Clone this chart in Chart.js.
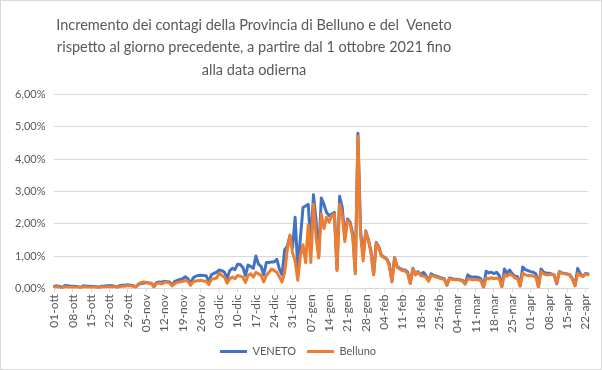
<!DOCTYPE html>
<html>
<head>
<meta charset="utf-8">
<script src="https://cdn.jsdelivr.net/npm/chart.js@4/dist/chart.umd.min.js"></script>
<style>
  html, body { margin: 0; padding: 0; background: #fff; }
  #wrap { width: 602px; height: 370px; position: relative; }
</style>
</head>
<body>
<div id="wrap"><canvas id="lineChart"></canvas></div>
<script>
// mesi (etichette asse x) e giorni presenti per ciascun mese
const monthNames = ['ott', 'nov', 'dic', 'gen', 'feb', 'mar', 'apr'];
const monthDays = [31, 30, 31, 31, 28, 31, 23];

const titleLines = [
    'Incremento dei contagi della Provincia di Belluno e del  Veneto',
    'rispetto al giorno precedente, a partire dal 1 ottobre 2021 fino',
    'alla data odierna'
];

// valori in percentuale, un valore al giorno
const venetoOtt = [0.07,0.08,0.06,0.03,0.09,0.08,0.07, 0.07,0.06,0.05,0.03,0.08,0.07,0.07, 0.06,0.06,0.05,0.03,0.07,0.07,0.08, 0.08,0.08,0.07,0.04,0.09,0.10,0.10, 0.11,0.10,0.09];
const venetoNov = [0.05,0.12,0.15,0.16,0.18,0.17,0.16, 0.07,0.18,0.20,0.19,0.22,0.21,0.20, 0.10,0.22,0.25,0.28,0.30,0.36,0.30, 0.15,0.32,0.38,0.40,0.41,0.40,0.39, 0.22,0.42];
const venetoDic = [0.47,0.50,0.57,0.55,0.50,0.31,0.55, 0.62,0.58,0.75,0.74,0.65,0.40,0.72, 0.68,0.62,1.00,0.75,0.68,0.42,0.80, 0.80,0.82,0.82,0.90,0.60,0.42,1.20, 1.30,1.62,1.25];
const venetoGen = [2.20,0.60,1.55,2.50,2.55,2.60,1.30, 2.90,2.10,1.00,2.80,2.60,2.35,2.25, 2.30,2.35,0.58,2.85,2.50,1.60,2.15, 2.05,1.70,0.50,4.80,1.80,1.00,1.78, 1.50,1.15,0.43];
const venetoFeb = [1.42,1.28,1.02,0.97,0.92,0.75,0.22, 0.95,0.68,0.62,0.58,0.57,0.50,0.16, 0.62,0.45,0.52,0.42,0.50,0.40,0.24, 0.45,0.40,0.38,0.35,0.32,0.30,0.10];
const venetoMar = [0.32,0.30,0.28,0.28,0.27,0.25,0.15, 0.42,0.36,0.35,0.35,0.34,0.30,0.04, 0.53,0.48,0.50,0.46,0.50,0.40,0.06, 0.60,0.47,0.57,0.45,0.38,0.36,0.08, 0.66,0.58,0.55];
const venetoApr = [0.52,0.50,0.45,0.05,0.60,0.50,0.47, 0.47,0.45,0.42,0.14,0.52,0.48,0.46, 0.45,0.42,0.30,0.10,0.62,0.45,0.37, 0.46,0.45];

const bellunoOtt = [0.04,0.05,0.03,0.01,0.05,0.04,0.04, 0.04,0.03,0.04,0.02,0.05,0.04,0.04, 0.03,0.04,0.03,0.01,0.05,0.04,0.05, 0.05,0.04,0.06,0.02,0.06,0.07,0.07, 0.09,0.08,0.07];
const bellunoNov = [0.03,0.13,0.18,0.20,0.19,0.17,0.15, 0.04,0.15,0.17,0.14,0.19,0.20,0.16, 0.08,0.15,0.19,0.20,0.22,0.24,0.22, 0.10,0.20,0.23,0.24,0.25,0.23,0.22, 0.12,0.28];
const bellunoDic = [0.30,0.32,0.47,0.40,0.35,0.16,0.30, 0.35,0.30,0.40,0.38,0.35,0.18,0.40, 0.45,0.35,0.50,0.45,0.40,0.20,0.40, 0.50,0.60,0.55,0.50,0.35,0.20,0.50, 1.20,1.65,1.10];
const bellunoGen = [0.85,0.25,1.00,1.35,0.80,1.97,0.80, 2.60,1.60,0.94,2.30,1.85,2.20,2.05, 2.25,2.30,0.55,2.60,2.30,1.45,2.10, 2.00,1.60,0.45,4.70,1.65,0.85,1.75, 1.50,1.10,0.42];
const bellunoFeb = [1.40,1.25,1.00,0.95,0.90,0.70,0.20, 0.94,0.65,0.60,0.55,0.55,0.45,0.15, 0.60,0.42,0.50,0.40,0.38,0.35,0.22, 0.40,0.38,0.35,0.32,0.30,0.28,0.10];
const bellunoMar = [0.30,0.28,0.27,0.27,0.26,0.22,0.13, 0.30,0.28,0.27,0.28,0.26,0.24,0.03, 0.32,0.30,0.33,0.30,0.32,0.28,0.05, 0.42,0.38,0.45,0.40,0.33,0.30,0.07, 0.47,0.42,0.40];
const bellunoApr = [0.40,0.38,0.35,0.05,0.52,0.45,0.42, 0.42,0.44,0.40,0.16,0.52,0.47,0.45, 0.44,0.40,0.28,0.08,0.47,0.40,0.37, 0.44,0.42];

const yTicks = [0, 1, 2, 3, 4, 5, 6];

document.addEventListener('DOMContentLoaded', function(){
    // etichette giornaliere tipo "01-ott"
    const labels = [];
    monthNames.forEach((m, mi) => {
        for (let d = 1; d <= monthDays[mi]; d++) {
            labels.push(String(d).padStart(2, '0') + '-' + m);
        }
    });

    const veneto = [].concat(venetoOtt, venetoNov, venetoDic, venetoGen, venetoFeb, venetoMar, venetoApr);
    const belluno = [].concat(bellunoOtt, bellunoNov, bellunoDic, bellunoGen, bellunoFeb, bellunoMar, bellunoApr);

    const grey = '#595959';
    const font = 'Lato, "Liberation Sans", sans-serif';

    // cornice grigia + titolo spostato un po' a sinistra come nell'originale
    const frame = {
        id: 'frame',
        afterLayout(chart) {
            if (chart.titleBlock) chart.titleBlock.right -= 88;
        },
        afterDraw(chart) {
            const c = chart.ctx;
            c.save();
            c.strokeStyle = '#d9d9d9';
            c.lineWidth = 1;
            c.strokeRect(0.5, 0.5, chart.width - 1, chart.height - 1);
            c.restore();
        }
    };

    const ctx = document.getElementById('lineChart').getContext('2d');
    new Chart(ctx, {
        type: 'line',
        data: {
            labels: labels,
            datasets: [
                { label: 'VENETO', data: veneto, borderColor: '#4472C4', backgroundColor: '#4472C4', order: 1 },
                { label: 'Belluno', data: belluno, borderColor: '#ED7D31', backgroundColor: '#ED7D31', order: 0 }
            ]
        },
        options: {
            responsive: true,
            maintainAspectRatio: false,
            animation: false,
            elements: {
                point: { radius: 0 },
                line: { borderWidth: 3, tension: 0, borderJoinStyle: 'round', borderCapStyle: 'round' }
            },
            layout: { padding: { left: 6, right: 12, top: 10, bottom: 3 } },
            scales: {
                x: {
                    grid: { drawOnChartArea: false, drawTicks: true, tickLength: 4, color: '#d9d9d9' },
                    border: { color: '#d9d9d9' },
                    ticks: {
                        autoSkip: false,
                        minRotation: 90,
                        maxRotation: 90,
                        color: grey,
                        font: { family: font, size: 12 },
                        padding: 2,
                        callback: function(v, i) { return i % 7 === 0 ? labels[i] : null; }
                    }
                },
                y: {
                    min: 0,
                    max: 6,
                    afterBuildTicks: s => { s.ticks = yTicks.map(v => ({ value: v })); },
                    grid: { color: '#d9d9d9', drawTicks: false },
                    border: { display: false },
                    ticks: {
                        color: grey,
                        padding: 9,
                        font: { family: font, size: 11 },
                        callback: v => v.toFixed(2).replace('.', ',') + '%'
                    }
                }
            },
            plugins: {
                title: {
                    display: true,
                    text: titleLines,
                    color: grey,
                    font: { family: font, size: 14.5, weight: 'normal', lineHeight: 1.55 },
                    padding: { top: 4, bottom: 13 }
                },
                legend: {
                    position: 'bottom',
                    labels: {
                        color: grey,
                        font: { family: font, size: 11 },
                        boxWidth: 27,
                        boxHeight: 3,
                        padding: 11,
                        sort: (a, b) => a.datasetIndex - b.datasetIndex,
                        generateLabels: function(chart) {
                            return Chart.defaults.plugins.legend.labels.generateLabels(chart)
                                .map(l => Object.assign(l, { lineWidth: 0 }));
                        }
                    }
                },
                tooltip: { enabled: false }
            }
        },
        plugins: [frame]
    });
});
</script>
</body>
</html>
